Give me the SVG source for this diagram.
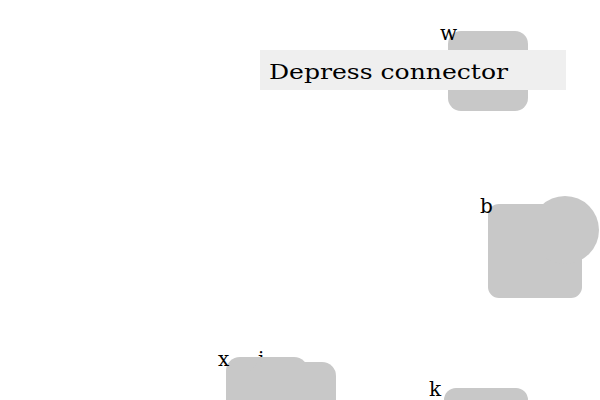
<svg xmlns="http://www.w3.org/2000/svg" width="600" height="400" viewBox="0 0 600 400">
<style>
.shape{fill:#c8c8c8}
.lbl{font-family:"DejaVu Serif","Liberation Serif",serif;font-size:20px;fill:#000}
</style>
<rect width="600" height="400" fill="#fff"/>
<g id="node-i"><text class="lbl" x="258" y="366">i</text></g>
<g id="node-w">
<rect class="shape" x="448" y="31" width="80" height="80" rx="13"/>
<text class="lbl" x="440" y="40">w</text>
</g>
<g id="node-b">
<rect class="shape" x="488" y="204" width="94" height="94" rx="11"/>
<circle class="shape" cx="565" cy="230" r="34"/>
<text class="lbl" x="480" y="213">b</text>
</g>
<g id="node-x">
<rect class="shape" x="226" y="357" width="82" height="60" rx="14"/>
<rect class="shape" x="250" y="362" width="86" height="60" rx="14"/>
<text class="lbl" x="218" y="366">x</text>
</g>
<g id="node-k">
<rect class="shape" x="444" y="388" width="84" height="40" rx="12"/>
<text class="lbl" x="429" y="396">k</text>
</g>
<g id="connectors"></g>
<g id="tooltip">
<rect x="260" y="50" width="306" height="40" fill="#efefef"/>
<text class="lbl" x="269" y="79" textLength="239" lengthAdjust="spacingAndGlyphs">Depress connector</text>
</g>
</svg>
